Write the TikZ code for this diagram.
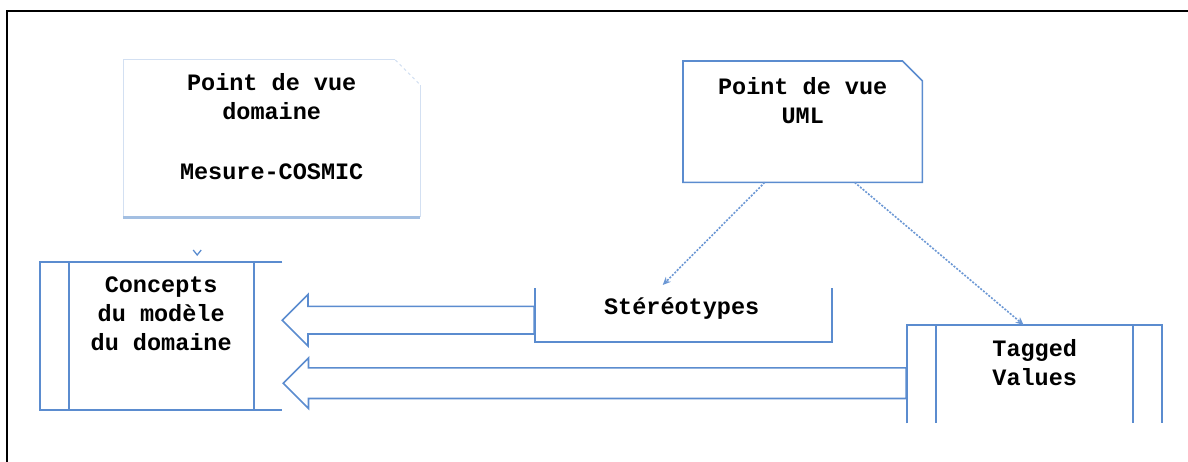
\documentclass[tikz,border=0pt]{standalone}
\usepackage{fontspec}
\setmonofont{Liberation Mono}
\usepackage{tikz}
\usetikzlibrary{shapes,arrows.meta,positioning}

\definecolor{lineblue}{HTML}{5B8CCF}
\definecolor{notelight}{HTML}{D3E0F2}
\definecolor{noteshade}{HTML}{A3BFE2}

\begin{document}
\begin{tikzpicture}[x=1pt,y=-1pt,
    txt/.style={font=\ttfamily\bfseries\fontsize{23.5}{29}\selectfont, align=center, inner sep=0pt},
    box/.style={inner sep=0pt, anchor=north west},
    edge/.style={draw=lineblue, line width=1.9pt},
    bigarrow/.style={single arrow, draw=lineblue, line width=1.6pt, fill=white,
        shape border rotate=180, single arrow tip angle=90, inner xsep=0pt, anchor=tail},
    dotarrow/.style={draw=lineblue!90, line width=1.6pt, dash pattern=on 2pt off 1.5pt,
        -{Stealth[length=8pt,width=7pt]}}]
    \useasboundingbox (0,0) rectangle (1188,462);

    % Frame
    \draw[line width=2pt] (7,462) -- (7,11) -- (1188,11);

    % Point de vue domaine
    \node[box, minimum width=297, minimum height=157] (domaine) at (123,60) {};
    \draw[notelight, line width=1pt] (domaine.south west) -- (domaine.north west) -- ([xshift=-25pt]domaine.north east);
    \draw[notelight, line width=1pt, dashed] ([xshift=-25pt]domaine.north east) -- ([yshift=-25pt]domaine.north east);
    \draw[notelight, line width=1pt] ([yshift=-25pt]domaine.north east) -- (domaine.south east);
    \draw[noteshade, line width=3pt] (domaine.south west) -- (domaine.south east);
    \node[txt, below=13pt of domaine.north] (domainetxt) {Point de vue\\domaine\\[31pt]Mesure-COSMIC};

    % Point de vue UML
    \node[box, minimum width=239, minimum height=121] (uml) at (683,61) {};
    \draw[edge, line width=1.6pt] (uml.south west) -- (uml.north west) -- ([xshift=-20pt]uml.north east)
        -- ([yshift=-20pt]uml.north east) -- (uml.south east) -- cycle;
    \node[txt, below=16pt of uml.north] (umltxt) {Point de vue\\UML};

    % Concepts du modele du domaine
    \node[box, minimum width=242, minimum height=148] (concepts) at (40,262) {};
    \draw[edge] (concepts.north east) -- (concepts.north west) -- (concepts.south west) -- (concepts.south east);
    \draw[edge] ([xshift=29pt]concepts.north west) -- ([xshift=29pt]concepts.south west);
    \draw[edge] ([xshift=-28pt]concepts.north east) -- ([xshift=-28pt]concepts.south east);
    \draw[edge, line width=1.3pt] ([xshift=32pt,yshift=12pt]concepts.north) -- ([xshift=36pt,yshift=7pt]concepts.north)
        -- ([xshift=40pt,yshift=12pt]concepts.north);
    \node[txt, below=15pt of concepts.north] (conceptstxt)
        {\fontsize{23.5}{32}\selectfont Concepts\\du modèle\\du domaine};

    % Stereotypes
    \node[box, minimum width=297, minimum height=54] (stereo) at (535,288) {};
    \draw[edge] (stereo.north west) -- (stereo.south west) -- (stereo.south east) -- (stereo.north east);
    \node[txt] (stereotxt) at ([xshift=-2pt,yshift=7pt]stereo.center) {Stéréotypes};

    % Tagged Values
    \node[box, minimum width=255, minimum height=98] (tagged) at (907,325) {};
    \draw[edge] (tagged.south west) -- (tagged.north west) -- (tagged.north east) -- (tagged.south east);
    \draw[edge] ([xshift=29pt]tagged.north west) -- ([xshift=29pt]tagged.south west);
    \draw[edge] ([xshift=-29pt]tagged.north east) -- ([xshift=-29pt]tagged.south east);
    \node[txt, below=14pt of tagged.north] (taggedtxt) {Tagged\\Values};

    % Hollow arrows towards the concepts
    \node[bigarrow, minimum height=252, inner ysep=13pt, single arrow head extend=12pt] (arrstereo)
        at ([yshift=-5pt]stereo.west) {};
    \node[bigarrow, minimum height=623, inner ysep=14.5pt, single arrow head extend=10pt] (arrtagged)
        at ([yshift=-9pt]tagged.west) {};

    % Dotted arrows from UML
    \draw[dotarrow] ([xshift=-38pt]uml.south) -- ([xshift=-21pt,yshift=3pt]stereo.north);
    \draw[dotarrow] ([xshift=52pt]uml.south) -- ([xshift=-11pt]tagged.north);
\end{tikzpicture}
\end{document}
